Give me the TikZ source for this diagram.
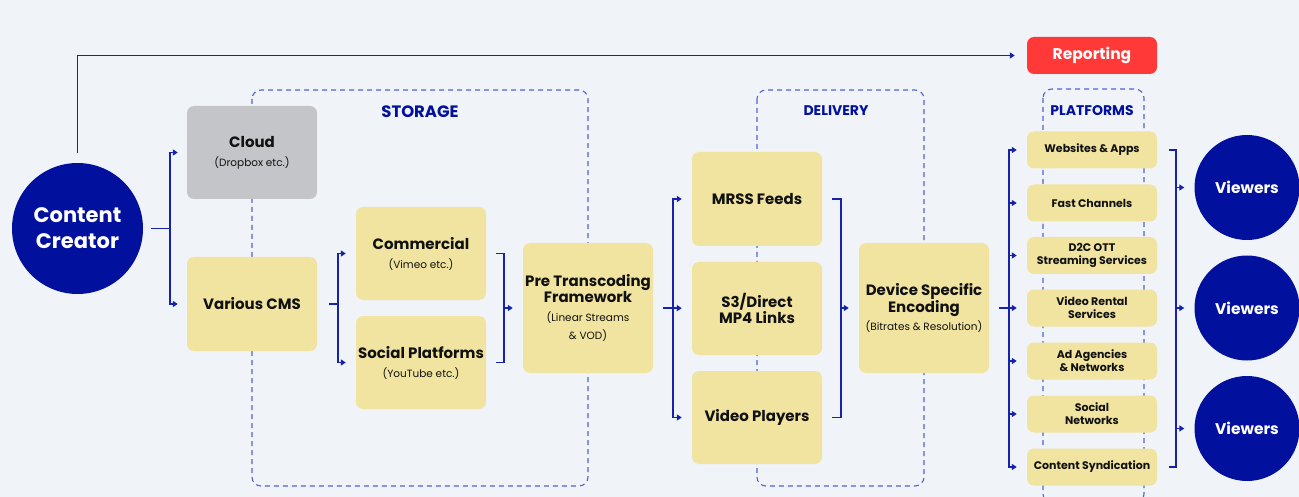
\documentclass[tikz,border=0pt]{standalone}
\usepackage{fontspec}
\setmainfont{Poppins}
\usetikzlibrary{arrows.meta,calc}
\definecolor{bgc}{RGB}{240,243,248}
\definecolor{navy}{RGB}{2,16,158}
\definecolor{lnc}{RGB}{20,34,172}
\definecolor{dsh}{RGB}{84,100,210}
\definecolor{yel}{RGB}{240,228,160}
\definecolor{gry}{RGB}{196,197,200}
\definecolor{rpt}{RGB}{255,56,56}
\definecolor{txt}{RGB}{17,17,17}
\newcommand\subtx[1]{{\fontsize{10.5}{12}\mdseries\selectfont #1}}
\begin{document}
\begin{tikzpicture}[x=1pt,y=-1pt,
  conn/.style={draw=lnc, line width=1.7pt},
  arr/.style={conn, -{Triangle[length=5pt,width=6pt]}},
  bx/.style={rounded corners=7pt, minimum width=130pt, align=center, inner sep=2pt, text=txt,
     font=\fontsize{15}{17}\selectfont\bfseries},
  ybox/.style={bx, fill=yel},
  pbox/.style={bx, fill=yel, minimum height=37pt, font=\fontsize{11}{13}\selectfont\bfseries},
  circ/.style={circle, fill=navy, text=white, align=center, inner sep=0pt},
  dbox/.style={draw=dsh, line width=1.1pt, dash pattern=on 5pt off 4pt, rounded corners=9pt},
  hdr/.style={text=navy, font=\fontsize{13}{15}\selectfont\bfseries}
]
\fill[bgc] (0,0) rectangle (1299,497);
\useasboundingbox (0,0) rectangle (1299,497);
\clip (0,0) rectangle (1299,497);

% dashed groups
\draw[dbox] (252,90) rectangle (588,486);
\draw[dbox] (757,90) rectangle (924,486);
\draw[dbox] (1043,89) rectangle (1144,503);
\node[hdr, font=\fontsize{16.5}{18}\selectfont\bfseries] (hs) at (420,112) {STORAGE};
\node[hdr, font=\fontsize{14}{16}\selectfont\bfseries] (hd) at (836,111) {DELIVERY};
\node[hdr, font=\fontsize{14}{16}\selectfont\bfseries] (hp) at (1092,111) {PLATFORMS};

% nodes
\node[circ, minimum size=131pt, font=\fontsize{21}{26}\selectfont\bfseries] (cc) at (77.5,228.5) {Content\\Creator};
\node[bx, fill=rpt, text=white, minimum height=37pt, font=\fontsize{15.5}{17}\selectfont\bfseries] (rep) at (1092,55.5) {Reporting};
\node[bx, fill=gry, minimum height=93pt] (cloud) at (252,152.5) {Cloud\\[2pt]\subtx{(Dropbox etc.)}};
\node[ybox, minimum height=94pt] (cms) at (252,304) {Various CMS};
\node[ybox, minimum height=93pt] (com) at (421,253.5) {Commercial\\[2pt]\subtx{(Vimeo etc.)}};
\node[ybox, minimum height=93pt] (soc) at (421,362.5) {Social Platforms\\[2pt]\subtx{(YouTube etc.)}};
\node[ybox, minimum height=130pt] (pre) at (588,308) {Pre Transcoding\\[-1pt]Framework\\[2pt]\subtx{(Linear Streams}\\[1pt]\subtx{\& VOD)}};
\node[ybox, minimum height=94pt] (mrss) at (757,199) {MRSS Feeds};
\node[ybox, minimum height=93pt] (s3) at (757,308.5) {S3/Direct\\[-1pt]MP4 Links};
\node[ybox, minimum height=93pt] (vp) at (757,417.5) {Video Players};
\node[ybox, minimum height=130pt] (dev) at (924,308) {Device Specific\\[0pt]Encoding\\[1pt]\subtx{(Bitrates \& Resolution)}};

\node[pbox] (p1) at (1092,150) {Websites \& Apps};
\node[pbox] (p2) at (1092,203) {Fast Channels};
\node[pbox] (p3) at (1092,255.5) {D2C OTT\\Streaming Services};
\node[pbox] (p4) at (1092,308) {Video Rental\\Services};
\node[pbox] (p5) at (1092,361) {Ad Agencies\\\& Networks};
\node[pbox] (p6) at (1092,414) {Social\\Networks};
\node[pbox] (p7) at (1092,467) {Content Syndication};

\node[circ, minimum size=105pt, font=\fontsize{15.5}{18}\selectfont\bfseries] (v1) at (1247,187.5) {Viewers};
\node[circ, minimum size=105pt, font=\fontsize{15.5}{18}\selectfont\bfseries] (v2) at (1247,308) {Viewers};
\node[circ, minimum size=105pt, font=\fontsize{15.5}{18}\selectfont\bfseries] (v3) at (1247,428.5) {Viewers};

% junction coordinates
\coordinate (b1) at (170,228.5);
\coordinate (b2) at (338,304);
\coordinate (m1) at (504,308);
\coordinate (b3) at (673,308);
\coordinate (m2) at (841,308);
\coordinate (b4) at (1009,308);
\coordinate (m3) at (1176,308);

% reporting
\draw[arr, shorten <=10pt, shorten >=12pt] (cc.north) |- (rep.west);

% content creator -> storage
\draw[conn, shorten <=8pt] (cc.east) -- (b1);
\draw[arr, shorten >=9pt] (b1) |- (cloud.west);
\draw[arr, shorten >=9pt] (b1) |- (cms.west);

% cms -> commercial/social
\draw[conn, shorten <=12pt] (cms.east) -- (b2);
\draw[arr, shorten >=10pt] (b2) |- (com.west);
\draw[arr, shorten >=10pt] (b2) |- (soc.west);

% merge -> pre
\draw[conn, shorten <=10pt] (com.east) -| (m1);
\draw[conn, shorten <=10pt] (soc.east) -| (m1);
\draw[arr, shorten >=10pt] (m1) -- (pre.west);

% pre -> delivery
\draw[conn, shorten <=10pt] (pre.east) -- (b3);
\draw[arr, shorten >=10pt] (b3) |- (mrss.west);
\draw[arr, shorten >=10pt] (b3) -- (s3.west);
\draw[arr, shorten >=10pt] (b3) |- (vp.west);

% delivery merge -> device
\draw[conn, shorten <=10pt] (mrss.east) -| (m2);
\draw[conn, shorten <=10pt] (vp.east) -| (m2);
\draw[arr, shorten >=10pt] (m2) -- (dev.west);

% device -> platforms
\draw[conn, shorten <=10pt] (dev.east) -- (b4);
\foreach \p in {p1,p2,p3,p5,p6,p7}{
  \draw[arr, shorten >=10pt] (b4) |- (\p.west);
}
\draw[arr, shorten >=10pt] (b4) -- (p4.west);

% platforms -> viewers
\draw[conn, shorten <=12pt, shorten >=12pt] (p1.east) -| (m3) |- (p7.east);
\draw[arr, shorten >=10pt] (v1.west -| m3) -- (v1.west);
\draw[arr, shorten >=10pt] (m3) -- (v2.west);
\draw[arr, shorten >=10pt] (v3.west -| m3) -- (v3.west);
\end{tikzpicture}
\end{document}
